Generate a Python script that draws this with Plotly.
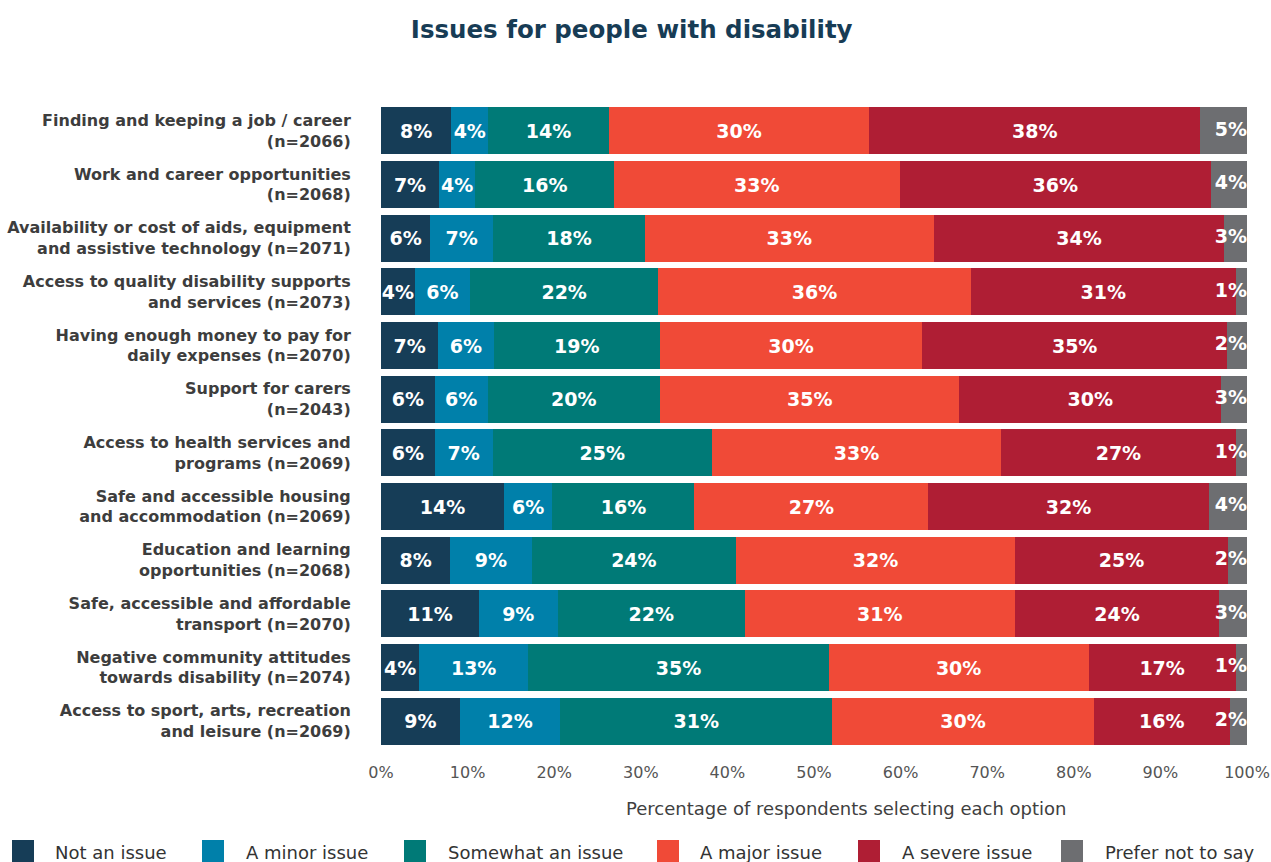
import plotly.graph_objects as go

categories = [
    "Finding and keeping a job / career<br>(n=2066)",
    "Work and career opportunities<br>(n=2068)",
    "Availability or cost of aids, equipment<br>and assistive technology (n=2071)",
    "Access to quality disability supports<br>and services (n=2073)",
    "Having enough money to pay for<br>daily expenses (n=2070)",
    "Support for carers<br>(n=2043)",
    "Access to health services and<br>programs (n=2069)",
    "Safe and accessible housing<br>and accommodation (n=2069)",
    "Education and learning<br>opportunities (n=2068)",
    "Safe, accessible and affordable<br>transport (n=2070)",
    "Negative community attitudes<br>towards disability (n=2074)",
    "Access to sport, arts, recreation<br>and leisure (n=2069)",
]

not_an_issue = [8.1, 6.7, 5.7, 3.9, 6.6, 6.2, 6.2, 14.2, 8.0, 11.3, 4.4, 9.1]
minor_issue = [4.3, 4.2, 7.2, 6.4, 6.4, 6.1, 6.7, 5.6, 9.4, 9.1, 12.6, 11.6]
somewhat_issue = [13.9, 16.0, 17.6, 21.7, 19.2, 19.9, 25.3, 16.4, 23.6, 21.6, 34.7, 31.4]
major_issue = [30.1, 33.0, 33.3, 36.1, 30.3, 34.6, 33.4, 27.0, 32.2, 31.2, 30.0, 30.2]
severe_issue = [38.2, 35.9, 33.6, 30.6, 35.2, 30.2, 27.1, 32.4, 24.6, 23.6, 17.0, 15.7]
prefer_not = [5.4, 4.2, 2.6, 1.3, 2.3, 3.0, 1.3, 4.4, 2.2, 3.2, 1.3, 2.0]

series_names = ["Not an issue", "A minor issue", "Somewhat an issue",
                "A major issue", "A severe issue", "Prefer not to say"]
series_values = [not_an_issue, minor_issue, somewhat_issue,
                 major_issue, severe_issue, prefer_not]
colors = ["#163d57", "#0080aa", "#007a77", "#f04a37", "#af1e34", "#6d6e71"]

x_ticks = [0, 10, 20, 30, 40, 50, 60, 70, 80, 90, 100]
x_tick_labels = [f"{t}%" for t in x_ticks]

FONT = "DejaVu Sans"
W, H = 1271, 862
ML, MR, MT, MB = 381, 24, 104, 114
PW, PH = W - ML - MR, H - MT - MB
BAR_TEXT = dict(color="white", size=19, family=FONT, weight="bold")

fig = go.Figure()
last = len(series_names) - 1
for i, (name, vals, col) in enumerate(zip(series_names, series_values, colors)):
    fig.add_trace(go.Bar(
        y=categories, x=vals, name=name, orientation="h",
        marker=dict(color=col, line=dict(width=0)),
        texttemplate="%{x:.0f}%" if i < last else "",
        textposition="inside" if i < last else "none",
        insidetextanchor="middle", textangle=0, cliponaxis=False,
        constraintext="none", textfont=BAR_TEXT,
        hovertemplate="%{y}: %{x:.0f}%<extra>" + name + "</extra>",
        showlegend=False,
    ))

# Labels of the thin right-most segment, kept inside the right end of each bar
row_totals = [sum(r) for r in zip(*series_values)]
fig.add_trace(go.Scatter(
    x=row_totals, y=categories, mode="text",
    text=[f"{v:.0f}%" for v in prefer_not],
    textposition="middle left", textfont=BAR_TEXT,
    cliponaxis=False, hoverinfo="skip", showlegend=False,
))

fig.update_layout(
    barmode="stack",
    bargap=0.13,
    width=W, height=H,
    margin=dict(l=ML, r=MR, t=MT, b=MB, autoexpand=False),
    plot_bgcolor="white", paper_bgcolor="white",
    font=dict(family=FONT, color="#3c3c3c"),
    title=dict(text="<b>Issues for people with disability</b>",
               x=0.497, xanchor="center", y=0.966, yanchor="middle",
               font=dict(size=24.5, color="#173c55", family=FONT)),
    showlegend=False,
)
fig.update_yaxes(range=[len(categories) - 0.5, -0.5], showgrid=False, zeroline=False,
                 showline=False, ticks="outside", ticklen=26, automargin=False,
                 tickcolor="rgba(0,0,0,0)",
                 tickfont=dict(size=16, color="#3d3d3d", family=FONT, weight="bold"))
fig.update_xaxes(range=[0, 100], tickvals=x_ticks, ticktext=x_tick_labels,
                 showgrid=False, zeroline=False, showline=False, automargin=False,
                 ticks="outside", ticklen=10, tickcolor="rgba(0,0,0,0)",
                 tickfont=dict(size=16, color="#555555", family=FONT))
fig.add_annotation(text="Percentage of respondents selecting each option",
                   xref="paper", yref="paper", x=(846 - ML) / PW, y=(MT + PH - 808) / PH,
                   xanchor="center", yanchor="middle", showarrow=False,
                   font=dict(size=18, color="#404040", family=FONT))

# Legend drawn as colour swatches with text labels (pixel layout of the reference)
legend_box_x = [12, 202, 404, 657, 858, 1061]
legend_text_x = [53, 244, 446, 698, 900, 1103]
for name, col, bx, tx in zip(series_names, colors, legend_box_x, legend_text_x):
    fig.add_shape(type="rect", xref="paper", yref="paper",
                  x0=(bx - ML) / PW, x1=(bx + 22 - ML) / PW,
                  y0=(MT + PH - 840) / PH, y1=(MT + PH - 863) / PH,
                  fillcolor=col, line=dict(width=0))
    fig.add_annotation(text=name, xref="paper", yref="paper",
                       x=(tx - ML) / PW, y=(MT + PH - 852) / PH,
                       xanchor="left", yanchor="middle", showarrow=False,
                       font=dict(size=18, color="#333333", family=FONT))

fig.write_html("out.html", config={"displayModeBar": False},
               post_script="document.body.style.margin='0';document.body.style.overflow='hidden';")
